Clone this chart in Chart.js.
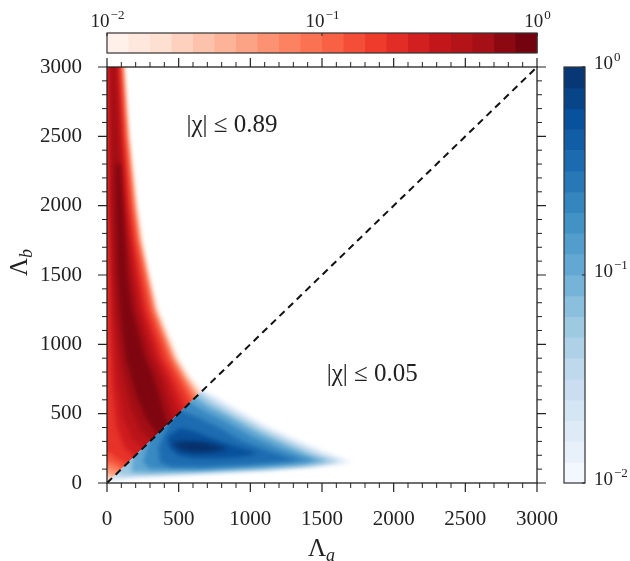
<!DOCTYPE html>
<html>
<head>
<meta charset="utf-8">
<script src="https://cdn.jsdelivr.net/npm/chart.js@4.4.0/dist/chart.umd.min.js"></script>
<style>
  html, body { margin: 0; padding: 0; background: #fff; }
  canvas { display: block; }
</style>
</head>
<body>
<canvas id="chart" width="630" height="561"></canvas>
<script>
// axis ticks (both axes use the same range)
const majorTicks = [0, 500, 1000, 1500, 2000, 2500, 3000];
const minorTicks = [100, 200, 300, 400, 600, 700, 800, 900, 1100, 1200, 1300, 1400,
  1600, 1700, 1800, 1900, 2100, 2200, 2300, 2400, 2600, 2700, 2800, 2900];
const cbarTicks = [0.01, 0.1, 1];
const cbarExps = ["\u22122", "\u22121", "0"];

// red density (|chi| <= 0.89), contour levels and outlines [Λa, Λb], outer -> inner
const redLevels = [0.012, 0.02, 0.04, 0.07, 0.12, 0.18, 0.26, 0.36, 0.5, 0.7];
const redContours = [
  [[-100,3200],[125,3200],[125,3000],[160,2500],[215,2000],[250,1750],[300,1500],[360,1250],[420,1100],[500,900],[585,760],[665,665],[760,560],[0,-200],[-100,-100]],
  [[-100,3200],[118,3200],[118,3000],[152,2500],[205,2000],[240,1750],[290,1500],[348,1250],[406,1100],[485,900],[567,760],[650,650],[740,560],[60,-30],[20,20],[0,35],[-100,50]],
  [[-100,3200],[112,3200],[112,3000],[145,2500],[196,2000],[230,1750],[280,1500],[336,1250],[393,1100],[470,900],[550,760],[636,636],[720,550],[90,0],[45,45],[0,65],[-100,75]],
  [[-100,3200],[105,3200],[105,3000],[138,2500],[187,2000],[220,1750],[272,1500],[324,1250],[380,1100],[455,900],[532,760],[620,620],[700,540],[130,40],[75,75],[25,100],[-100,120]],
  [[-100,3200],[98,3200],[98,3000],[130,2500],[177,2000],[210,1750],[262,1500],[312,1250],[366,1100],[440,900],[514,760],[602,602],[680,520],[170,70],[105,105],[45,140],[-100,170]],
  [[-100,3200],[88,3200],[88,3000],[118,2500],[162,2000],[194,1750],[240,1500],[290,1250],[342,1100],[412,900],[485,760],[578,578],[650,500],[210,110],[140,140],[75,175],[20,215],[-100,235]],
  [[8,3200],[78,3200],[78,3000],[105,2500],[145,2000],[175,1750],[215,1500],[262,1250],[310,1100],[375,900],[445,760],[540,540],[610,470],[260,160],[190,190],[120,260],[70,400],[35,700],[18,1200],[12,2000]],
  [[18,3200],[68,3200],[68,3000],[92,2500],[128,2000],[156,1750],[192,1500],[235,1250],[280,1100],[342,900],[408,760],[505,505],[570,440],[310,200],[250,250],[175,320],[110,480],[65,750],[40,1200],[25,2000]],
  [[24,3200],[58,3200],[58,3000],[80,2500],[112,2000],[138,1750],[168,1500],[208,1250],[250,1100],[310,900],[372,760],[465,465],[520,400],[340,260],[305,305],[230,385],[160,560],[95,850],[60,1200],[45,1500],[32,2000]],
  [[60,2300],[92,2300],[112,2000],[140,1500],[175,1250],[212,1100],[268,900],[325,760],[425,425],[465,375],[380,310],[355,355],[280,450],[200,640],[130,900],[95,1200],[75,1500],[62,2000]]
];

// blue density (|chi| <= 0.05)
const blueLevels = [0.012, 0.025, 0.05, 0.1, 0.18, 0.3, 0.5, 0.8, 0.95];
const blueContours = [
  [[0,15],[200,36],[650,60],[1100,84],[1450,112],[1720,150],[1560,215],[1350,305],[1120,412],[900,540],[760,625],[672,672],[620,760],[0,760]],
  [[25,25],[200,46],[650,69],[1100,92],[1430,118],[1660,152],[1515,206],[1320,292],[1100,396],[880,525],[740,610],[660,660],[610,760],[25,760]],
  [[70,70],[120,55],[300,62],[650,78],[1100,100],[1400,124],[1600,155],[1470,198],[1290,280],[1080,382],[860,505],[720,590],[645,645],[600,760],[70,760]],
  [[180,180],[170,82],[300,75],[650,88],[1100,110],[1370,132],[1530,158],[1420,192],[1250,268],[1050,365],[840,485],[700,560],[620,620],[580,760],[180,760]],
  [[290,290],[250,150],[300,102],[650,100],[1050,122],[1300,143],[1450,163],[1350,190],[1190,252],[1000,340],[810,455],[680,520],[580,580],[540,760],[290,760]],
  [[440,440],[360,260],[370,150],[450,118],[650,115],[950,132],[1200,152],[1340,168],[1270,180],[1120,232],[950,300],[780,400],[640,470],[520,520],[480,700],[440,700]],
  [[420,330],[440,250],[500,200],[600,180],[780,178],[920,188],[1020,205],[1050,215],[980,238],[860,275],[740,320],[620,370],[510,395]],
  [[450,285],[510,235],[600,218],[710,220],[810,235],[830,255],[750,280],[630,300],[520,305]],
  [[530,270],[580,245],[670,242],[740,255],[690,275],[590,282]]
];

const diagonal = [[0, 0], [3000, 3000]];
const notes = [
  { text: "|\u03c7| \u2264 0.89", at: [872, 2580] },
  { text: "|\u03c7| \u2264 0.05", at: [1850, 780] }
];

const SERIF = '"Liberation Serif", "DejaVu Serif", serif';
const INK = "#222";
const redMap = ["#fff5f0", "#fee0d2", "#fcbba1", "#fc9272", "#fb6a4a", "#ef3b2c", "#cb181d", "#a50f15", "#67000d"];
const blueMap = ["#f7fbff", "#deebf7", "#c6dbef", "#9ecae1", "#6baed6", "#4292c6", "#2171b5", "#08519c", "#08306b"];

function hexRgb(h) {
  return [1, 3, 5].map(i => parseInt(h.slice(i, i + 2), 16));
}

function mapColor(stops, t) {
  t = Math.max(0, Math.min(1, t));
  const p = t * (stops.length - 1);
  const i = Math.min(Math.floor(p), stops.length - 2);
  const f = p - i;
  const a = hexRgb(stops[i]), b = hexRgb(stops[i + 1]);
  const c = a.map((v, k) => Math.round(v + (b[k] - v) * f));
  return `rgb(${c[0]},${c[1]},${c[2]})`;
}

// log10 value in [0.01, 1] -> 0..1
const logPos = v => (Math.log10(v) + 2) / 2;

function contourSet(side, levels, polys, stops) {
  return polys.map((poly, i) => ({
    side,
    shade: mapColor(stops, logPos(levels[i]) + 0.03),
    data: poly.map(([x, y]) => ({ x, y })),
    showLine: false,
    pointRadius: 0,
    pointHoverRadius: 0
  }));
}

function drawPower(ctx, exp, x, y, size, align) {
  ctx.font = `${size}px ${SERIF}`;
  const wb = ctx.measureText("10").width;
  ctx.font = `${Math.round(size * 0.7)}px ${SERIF}`;
  const we = ctx.measureText(exp).width;
  const left = align === "center" ? x - (wb + we) / 2 : x;
  ctx.textAlign = "left";
  ctx.textBaseline = "alphabetic";
  ctx.font = `${size}px ${SERIF}`;
  ctx.fillText("10", left, y);
  ctx.font = `${Math.round(size * 0.7)}px ${SERIF}`;
  ctx.fillText(exp, left + wb + 1, y - size * 0.42);
}

const densityPlugin = {
  id: "density",
  beforeDatasetsDraw(chart) {
    const { ctx, chartArea: a, scales: { x, y } } = chart;
    const tris = {
      red: [[0, 0], [0, 3000], [3000, 3000]],
      blue: [[0, 0], [3000, 0], [3000, 3000]]
    };
    ["red", "blue"].forEach(side => {
      ctx.save();
      ctx.beginPath();
      ctx.rect(a.left, a.top, a.width, a.height);
      ctx.clip();
      ctx.beginPath();
      tris[side].forEach(([vx, vy], i) => {
        const px = x.getPixelForValue(vx), py = y.getPixelForValue(vy);
        i ? ctx.lineTo(px, py) : ctx.moveTo(px, py);
      });
      ctx.closePath();
      ctx.clip();
      ctx.filter = "blur(2px)";
      chart.data.datasets.filter(d => d.side === side).forEach(d => {
        ctx.beginPath();
        d.data.forEach((p, i) => {
          const px = x.getPixelForValue(p.x), py = y.getPixelForValue(p.y);
          i ? ctx.lineTo(px, py) : ctx.moveTo(px, py);
        });
        ctx.closePath();
        ctx.fillStyle = d.shade;
        ctx.fill();
      });
      ctx.restore();
    });
  },
  afterDraw(chart) {
    const { ctx, chartArea: a, scales: { x, y } } = chart;
    ctx.save();

    // frame and outward ticks on all four sides
    ctx.strokeStyle = INK;
    ctx.lineWidth = 1.3;
    ctx.strokeRect(a.left, a.top, a.width, a.height);
    const tick = (vals, len) => {
      ctx.beginPath();
      vals.forEach(v => {
        const px = x.getPixelForValue(v), py = y.getPixelForValue(v);
        ctx.moveTo(px, a.bottom); ctx.lineTo(px, a.bottom + len);
        ctx.moveTo(px, a.top); ctx.lineTo(px, a.top - len);
        ctx.moveTo(a.left, py); ctx.lineTo(a.left - len, py);
        ctx.moveTo(a.right, py); ctx.lineTo(a.right + len, py);
      });
      ctx.stroke();
    };
    ctx.lineWidth = 1.2;
    tick(majorTicks, 9);
    ctx.lineWidth = 1;
    tick(minorTicks, 5);

    // notes
    ctx.fillStyle = INK;
    ctx.font = `25px ${SERIF}`;
    ctx.textAlign = "center";
    ctx.textBaseline = "middle";
    notes.forEach(n => ctx.fillText(n.text, x.getPixelForValue(n.at[0]), y.getPixelForValue(n.at[1])));

    // axis titles
    ctx.textBaseline = "alphabetic";
    ctx.textAlign = "left";
    ctx.font = `25px ${SERIF}`;
    const wL = ctx.measureText("\u039b").width;
    const cx = (a.left + a.right) / 2;
    ctx.fillText("\u039b", cx - (wL + 10) / 2, 556);
    ctx.font = `italic 18px ${SERIF}`;
    ctx.fillText("a", cx - (wL + 10) / 2 + wL, 561);
    ctx.save();
    ctx.translate(27, 262);
    ctx.rotate(-Math.PI / 2);
    ctx.font = `25px ${SERIF}`;
    ctx.fillText("\u039b", -(wL + 10) / 2, 0);
    ctx.font = `italic 18px ${SERIF}`;
    ctx.fillText("b", -(wL + 10) / 2 + wL, 5);
    ctx.restore();

    // colorbars: 20 log-spaced bands from 1e-2 to 1e0
    const bands = 20;
    const top = { x0: a.left, x1: a.right, y0: 33, y1: 53 };
    const right = { x0: 564, x1: 585, y0: a.top, y1: a.bottom };
    for (let k = 0; k < bands; k++) {
      const t = (k + 0.5) / bands;
      ctx.fillStyle = mapColor(redMap, t);
      const bw = (top.x1 - top.x0) / bands;
      ctx.fillRect(top.x0 + k * bw, top.y0, bw + 0.5, top.y1 - top.y0);
      ctx.fillStyle = mapColor(blueMap, t);
      const bh = (right.y1 - right.y0) / bands;
      ctx.fillRect(right.x0, right.y1 - (k + 1) * bh, right.x1 - right.x0, bh + 0.5);
    }
    ctx.strokeStyle = "#333";
    ctx.lineWidth = 1.2;
    ctx.strokeRect(top.x0, top.y0, top.x1 - top.x0, top.y1 - top.y0);
    ctx.strokeRect(right.x0, right.y0, right.x1 - right.x0, right.y1 - right.y0);

    ctx.fillStyle = INK;
    ctx.strokeStyle = INK;
    ctx.lineWidth = 1;
    cbarTicks.forEach((v, i) => {
      const f = logPos(v);
      const tx = top.x0 + f * (top.x1 - top.x0);
      const ty = right.y1 - f * (right.y1 - right.y0);
      ctx.beginPath();
      ctx.moveTo(tx, top.y0); ctx.lineTo(tx, top.y0 + 3);
      ctx.moveTo(right.x1, ty); ctx.lineTo(right.x1 - 3, ty);
      ctx.stroke();
      drawPower(ctx, cbarExps[i], tx, 27, 19, "center");
      drawPower(ctx, cbarExps[i], right.x1 + 9, ty + 2, 19, "left");
    });
    ctx.restore();
  }
};

const tickFont = { family: SERIF, size: 21 };

new Chart(document.getElementById("chart"), {
  type: "scatter",
  data: {
    datasets: [
      ...contourSet("red", redLevels, redContours, redMap),
      ...contourSet("blue", blueLevels, blueContours, blueMap),
      {
        data: diagonal.map(([x, y]) => ({ x, y })),
        showLine: true,
        borderColor: "#111",
        borderWidth: 2,
        borderDash: [7, 5],
        pointRadius: 0,
        pointHoverRadius: 0
      }
    ]
  },
  options: {
    responsive: false,
    animation: false,
    layout: { padding: { top: 67, right: 93, left: 0, bottom: 0 } },
    plugins: { legend: { display: false }, tooltip: { enabled: false } },
    scales: {
      x: {
        type: "linear", min: 0, max: 3000,
        afterFit: s => { s.height = 78; },
        afterBuildTicks: s => { s.ticks = majorTicks.map(v => ({ value: v })); },
        grid: { display: false, drawTicks: false },
        border: { display: false },
        ticks: { padding: 24, font: tickFont, color: INK, maxRotation: 0, callback: v => String(v) }
      },
      y: {
        type: "linear", min: 0, max: 3000,
        afterFit: s => { s.width = 107; },
        afterBuildTicks: s => { s.ticks = majorTicks.map(v => ({ value: v })); },
        grid: { display: false, drawTicks: false },
        border: { display: false },
        ticks: { padding: 25, font: tickFont, color: INK, callback: v => String(v) }
      }
    }
  },
  plugins: [densityPlugin]
});
</script>
</body>
</html>
